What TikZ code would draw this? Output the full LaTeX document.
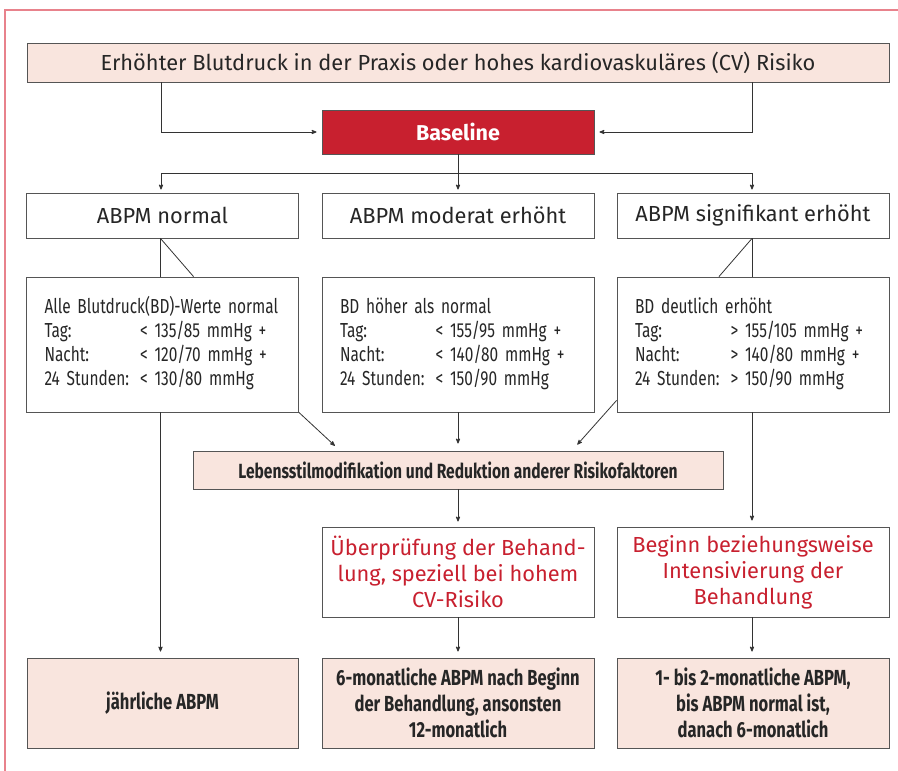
\documentclass[tikz,border=0pt]{standalone}
\usepackage{fontspec}
\setmainfont{Fira Sans}
\newfontfamily\dinfont{Fira Sans}
\newfontfamily\dinnarrow[FakeStretch=0.76]{Fira Sans}
\usepackage{xcolor}
\usetikzlibrary{arrows}
\definecolor{boxpink}{HTML}{F9E5DE}
\definecolor{baselinered}{HTML}{C8202F}
\definecolor{framered}{HTML}{E8828C}
\definecolor{linegrey}{HTML}{333333}
\definecolor{bordergrey}{HTML}{555555}

\begin{document}
\begin{tikzpicture}[x=1pt, y=-1pt, >=stealth']
        \useasboundingbox (0,0) rectangle (898,771);
        \tikzstyle{BoxStyle} = [draw=bordergrey, line width=0.9pt, inner sep=0pt, align=center, text=black!85]
        \tikzstyle{WideStyle} = [BoxStyle, minimum width=272pt]
        \tikzstyle{PinkStyle} = [fill=boxpink]
        \tikzstyle{MainFont} = [font=\dinfont\fontsize{21.8}{26}\selectfont]
        \tikzstyle{TableFont} = [font=\dinnarrow\fontsize{20.3}{24}\selectfont]
        \tikzstyle{BoldFont} = [font=\dinnarrow\bfseries\fontsize{21.8}{26}\selectfont]
        \tikzstyle{DetailStyle} = [WideStyle, TableFont, minimum height=135pt, inner xsep=18pt, text width=236pt, align=left]
        \tikzstyle{EdgeStyle} = [draw=linegrey, line width=0.8pt]
        % outer frame
        \draw[framered, line width=1.4pt] (5,771) -- (5,10) -- (898,10);
        % top and baseline
        \node[BoxStyle, PinkStyle, MainFont, minimum width=862pt, minimum height=39pt] (top) at (458,62.5)
            {Erhöhter Blutdruck in der Praxis oder hohes kardiovaskuläres (CV) Risiko};
        \node[WideStyle, fill=baselinered, text=white, font=\dinfont\bfseries\fontsize{21.5}{26}\selectfont,
            minimum height=44pt] (base) at (458,132) {Baseline};
        % ABPM results
        \node[WideStyle, MainFont, minimum height=45pt] (abpmA) at (162.5,215.5) {ABPM normal};
        \node[WideStyle, MainFont, minimum height=45pt] (abpmB) at (458,215.5) {ABPM moderat erhöht};
        \node[WideStyle, MainFont, minimum height=45pt] (abpmC) at (753,215.5) {ABPM signifikant erhöht};
        % values
        \node[DetailStyle] (detA) at (162.5,344.5) {\begin{tabular}{@{}l@{\hspace{11pt}}l@{}}
            \multicolumn{2}{@{}l@{}}{Alle Blutdruck(BD)-Werte normal}\\
            Tag: & < 135/85 mmHg +\\
            Nacht: & < 120/70 mmHg +\\
            24 Stunden: & < 130/80 mmHg
            \end{tabular}};
        \node[DetailStyle] (detB) at (458,344.5) {\begin{tabular}{@{}l@{\hspace{11pt}}l@{}}
            \multicolumn{2}{@{}l@{}}{BD höher als normal}\\
            Tag: & < 155/95 mmHg +\\
            Nacht: & < 140/80 mmHg +\\
            24 Stunden: & < 150/90 mmHg
            \end{tabular}};
        \node[DetailStyle] (detC) at (753,344.5) {\begin{tabular}{@{}l@{\hspace{11pt}}l@{}}
            \multicolumn{2}{@{}l@{}}{BD deutlich erhöht}\\
            Tag: & > 155/105 mmHg +\\
            Nacht: & > 140/80 mmHg +\\
            24 Stunden: & > 150/90 mmHg
            \end{tabular}};
        \node[BoxStyle, PinkStyle, font=\dinnarrow\bfseries\fontsize{20.5}{24}\selectfont,
            minimum width=530pt, minimum height=38pt] (lebens) at (458,470)
            {Lebensstilmodifikation und Reduktion anderer Risikofaktoren};
        % treatment
        \node[WideStyle, MainFont, text=baselinered, minimum height=90pt] (pruef) at (458,572)
            {Überprüfung der Behand-\\lung, speziell bei hohem\\CV-Risiko};
        \node[WideStyle, MainFont, text=baselinered, minimum height=90pt] (beginn) at (753,572)
            {Beginn beziehungsweise\\Intensivierung der\\Behandlung};
        % follow-up
        \node[WideStyle, PinkStyle, BoldFont, minimum width=271pt, minimum height=90pt] (botA) at (162.5,703)
            {jährliche ABPM};
        \node[WideStyle, PinkStyle, BoldFont, minimum height=90pt] (botB) at (458,703)
            {6-monatliche ABPM nach Beginn\\der Behandlung, ansonsten\\12-monatlich};
        \node[WideStyle, PinkStyle, BoldFont, minimum height=90pt] (botC) at (753,703)
            {1- bis 2-monatliche ABPM,\\bis ABPM normal ist,\\danach 6-monatlich};
        % connectors
        \coordinate (split) at (458,173);
        \draw[EdgeStyle, ->, shorten >=5pt] ([xshift=-1.5pt]abpmA.north |- top.south) |- (base.west);
        \draw[EdgeStyle, ->, shorten >=5pt] ([xshift=-1pt]abpmC.north |- top.south) |- (base.east);
        \draw[EdgeStyle, ->, shorten >=3pt] (base.south) -- (abpmB.north);
        \draw[EdgeStyle, ->, shorten >=3pt] (split) -| ([xshift=-1.5pt]abpmA.north);
        \draw[EdgeStyle, ->, shorten >=3pt] (split) -| ([xshift=-1pt]abpmC.north);
        \draw[EdgeStyle] ([xshift=-2pt]abpmA.south) -- ([xshift=-2pt]detA.north);
        \draw[EdgeStyle] ([xshift=-2pt]abpmA.south) -- ([xshift=31pt]detA.north);
        \draw[EdgeStyle] ([xshift=-1pt]abpmC.south) -- ([xshift=-1pt]detC.north);
        \draw[EdgeStyle] ([xshift=-1pt]abpmC.south) -- ([xshift=-34pt]detC.north);
        \draw[EdgeStyle, ->, shorten >=6pt] ([xshift=-2pt]detA.south) -- ([xshift=-2pt]botA.north);
        \draw[EdgeStyle, ->, shorten >=7pt] (detA.south east) -- ([xshift=-118pt]lebens.north);
        \draw[EdgeStyle, ->, shorten >=7pt] (detB.south) -- (lebens.north);
        \draw[EdgeStyle, ->, shorten >=8pt] ([yshift=12pt]detC.south west) -- ([xshift=114pt]lebens.north);
        \draw[EdgeStyle, ->, shorten >=6pt] ([xshift=-1pt]detC.south) -- ([xshift=-1pt]beginn.north);
        \draw[EdgeStyle, ->, shorten >=5pt] (lebens.south) -- (pruef.north);
        \draw[EdgeStyle, ->, shorten >=6pt] (pruef.south) -- (botB.north);
        \draw[EdgeStyle, ->, shorten >=6pt] ([xshift=-1pt]beginn.south) -- ([xshift=-1pt]botC.north);
\end{tikzpicture}
\end{document}
